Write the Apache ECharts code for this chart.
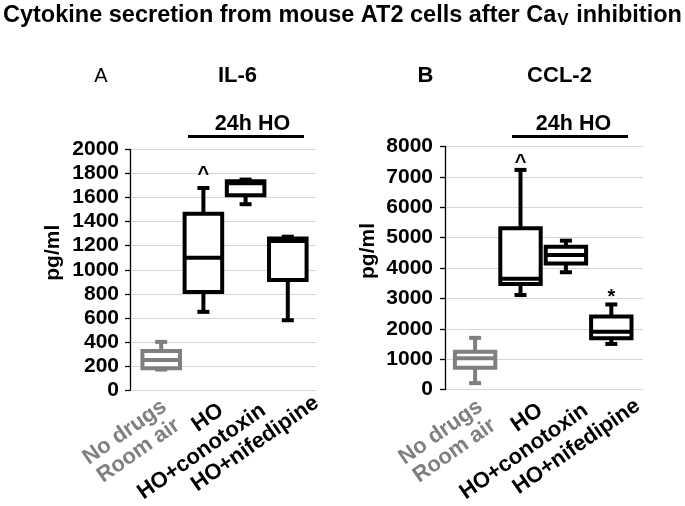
<!DOCTYPE html>
<html><head><meta charset="utf-8">
<script src="https://cdn.jsdelivr.net/npm/echarts@6/dist/echarts.min.js"></script>
<style>html,body{margin:0;padding:0;background:#fff}#c{width:685px;height:506px}</style>
</head><body><div id="c"></div>
<script>
// ---- data ----
const categories = ['No drugs\nRoom air', 'HO', 'HO+conotoxin', 'HO+nifedipine'];
// [min, Q1, median, Q3, max] per category
const il6Stats = [
  [170, 180, 250, 325, 400],
  [650, 815, 1100, 1465, 1680],
  [1545, 1620, 1720, 1735, 1750],
  [580, 915, 1240, 1260, 1275]
];
const ccl2Stats = [
  [210, 720, 1030, 1240, 1700],
  [3110, 3470, 3650, 5310, 7230],
  [3860, 4150, 4430, 4700, 4900],
  [1500, 1690, 1900, 2400, 2800]
];
const il6Ticks = {min: 0, max: 2000, interval: 200};
const ccl2Ticks = {min: 0, max: 8000, interval: 1000};
// significance marks: [category index, value, symbol]
const il6Marks = [[1, 1795, '^']];
const ccl2Marks = [[1, 7480, '^'], [3, 3030, '*']];

// ---- drawing ----
const FONT = '"Liberation Sans", Arial, sans-serif';
const GRAY = '#7f7f7f';

function toRows(stats) { return stats.map((s, i) => [i].concat(s)); }

function renderBox(params, api) {
  const ci = api.value(0);
  const vMin = api.value(1), vQ1 = api.value(2), vMed = api.value(3), vQ3 = api.value(4), vMax = api.value(5);
  const pMin = api.coord([ci, vMin]), pQ1 = api.coord([ci, vQ1]), pMed = api.coord([ci, vMed]);
  const pQ3 = api.coord([ci, vQ3]), pMax = api.coord([ci, vMax]);
  const band = api.size([1, 0])[0];
  const hw = band * 0.445;
  const cap = 6;
  const cx = pMin[0];
  const col = ci === 0 ? GRAY : '#000';
  const st = {stroke: col, lineWidth: 4, lineCap: 'butt'};
  return {type: 'group', children: [
    {type: 'line', shape: {x1: cx, y1: pMax[1], x2: cx, y2: pQ3[1]}, style: st},
    {type: 'line', shape: {x1: cx, y1: pQ1[1], x2: cx, y2: pMin[1]}, style: st},
    {type: 'line', shape: {x1: cx - cap, y1: pMax[1], x2: cx + cap, y2: pMax[1]}, style: st},
    {type: 'line', shape: {x1: cx - cap, y1: pMin[1], x2: cx + cap, y2: pMin[1]}, style: st},
    {type: 'rect', shape: {x: cx - hw, y: pQ3[1], width: hw * 2, height: pQ1[1] - pQ3[1]},
      style: {fill: '#fff', stroke: col, lineWidth: 4}},
    {type: 'line', shape: {x1: cx - hw, y1: pMed[1], x2: cx + hw, y2: pMed[1]}, style: st}
  ]};
}

function frameY(t, idx, margin) {
  return {gridIndex: idx, type: 'value', min: t.min, max: t.max, interval: t.interval,
    name: 'pg/ml', nameLocation: 'middle', nameGap: 66,
    nameTextStyle: {fontFamily: FONT, fontWeight: 'bold', fontSize: 21, color: '#000', padding: [0, 0, 0, 34]},
    axisLine: {show: true, lineStyle: {color: '#000', width: 1.3}},
    axisTick: {show: true, length: 5, lineStyle: {color: '#000', width: 1.3}},
    axisLabel: {fontFamily: FONT, fontWeight: 'bold', fontSize: 21, color: '#000', margin: margin,
      formatter: v => String(v)},
    splitLine: {show: true, lineStyle: {color: '#d6d6d6', width: 1}}};
}
function hiddenY(t, idx) {
  return {gridIndex: idx, type: 'value', min: t.min, max: t.max, show: false, splitLine: {show: false}};
}
function hiddenX(idx) {
  return {gridIndex: idx, type: 'category', data: categories, show: false};
}
function labelX(idx, grayPad, lastPad) {
  return {gridIndex: idx, type: 'category',
    data: categories.map((c, i) => i === 0 ? {value: c, textStyle: {color: GRAY, padding: [0, grayPad, 0, 0]}}
      : i === categories.length - 1 ? {value: c, textStyle: {padding: [0, lastPad, 0, 0]}} : c),
    axisLine: {show: false}, axisTick: {show: false}, splitLine: {show: false},
    axisLabel: {interval: 0, rotate: 35, margin: 23, fontFamily: FONT, fontWeight: 'bold',
      fontSize: 22, lineHeight: 23, color: '#000'}};
}

const chart = echarts.init(document.getElementById('c'), null, {renderer: 'canvas'});
const markSeries = (marks, xi) => ({
  type: 'custom', xAxisIndex: xi, yAxisIndex: xi, data: marks.map(m => [m[0], m[1]]),
  renderItem: (params, api) => {
    const p = api.coord([api.value(0), api.value(1)]);
    return {type: 'text', x: p[0], y: p[1], style: {text: marks[params.dataIndex][2], fill: '#000',
      font: 'bold 20px ' + FONT, align: 'center', verticalAlign: 'middle'}};
  }, z: 5
});

chart.setOption({
  animation: false,
  grid: [
    {left: 130, top: 149.5, width: 186, height: 240.5},
    {left: 140.1, top: 149.5, width: 168.8, height: 240.5},
    {left: 158.1, top: 149.5, width: 168.8, height: 240.5},
    {left: 445, top: 146.5, width: 198, height: 243},
    {left: 452.4, top: 146.5, width: 181.6, height: 243},
    {left: 472.4, top: 146.5, width: 181.6, height: 243}
  ],
  xAxis: [hiddenX(0), hiddenX(1), labelX(2, 10, -13), hiddenX(3), hiddenX(4), labelX(5, 10, -8)],
  yAxis: [frameY(il6Ticks, 0, 11), hiddenY(il6Ticks, 1), hiddenY(il6Ticks, 2),
          frameY(ccl2Ticks, 3, 12), hiddenY(ccl2Ticks, 4), hiddenY(ccl2Ticks, 5)],
  series: [
    {type: 'custom', xAxisIndex: 1, yAxisIndex: 1, data: toRows(il6Stats), renderItem: renderBox,
      encode: {x: 0, y: [1, 2, 3, 4, 5]}},
    {type: 'custom', xAxisIndex: 4, yAxisIndex: 4, data: toRows(ccl2Stats), renderItem: renderBox,
      encode: {x: 0, y: [1, 2, 3, 4, 5]}},
    markSeries(il6Marks, 1),
    markSeries(ccl2Marks, 4)
  ],
  graphic: [
    {type: 'text', x: 3, y: 2, style: {
      text: '{a|Cytokine secretion from mouse AT2 cells after Ca}{s|V}{a| inhibition}',
      rich: {a: {fontFamily: FONT, fontWeight: 'bold', fontSize: 23.5, fill: '#000'},
             s: {fontFamily: FONT, fontWeight: 'bold', fontSize: 17, fill: '#000', padding: [10, 1, 0, 1]}},
      align: 'left', verticalAlign: 'top'}},
    {type: 'text', x: 101, y: 76, style: {text: 'A', font: '20px ' + FONT, fill: '#000', align: 'center', verticalAlign: 'middle'}},
    {type: 'text', x: 237.5, y: 76, style: {text: 'IL-6', font: 'bold 22px ' + FONT, fill: '#000', align: 'center', verticalAlign: 'middle'}},
    {type: 'text', x: 425.5, y: 76, style: {text: 'B', font: 'bold 22px ' + FONT, fill: '#000', align: 'center', verticalAlign: 'middle'}},
    {type: 'text', x: 559.5, y: 76, style: {text: 'CCL-2', font: 'bold 22px ' + FONT, fill: '#000', align: 'center', verticalAlign: 'middle'}},
    {type: 'text', x: 252.5, y: 124, style: {text: '24h HO', font: 'bold 21.5px ' + FONT, fill: '#000', align: 'center', verticalAlign: 'middle'}},
    {type: 'text', x: 573.5, y: 124, style: {text: '24h HO', font: 'bold 21.5px ' + FONT, fill: '#000', align: 'center', verticalAlign: 'middle'}},
    {type: 'line', shape: {x1: 188, y1: 136.5, x2: 304, y2: 136.5}, style: {stroke: '#000', lineWidth: 3}},
    {type: 'line', shape: {x1: 512, y1: 136.5, x2: 628, y2: 136.5}, style: {stroke: '#000', lineWidth: 3}}
  ]
});
</script></body></html>
